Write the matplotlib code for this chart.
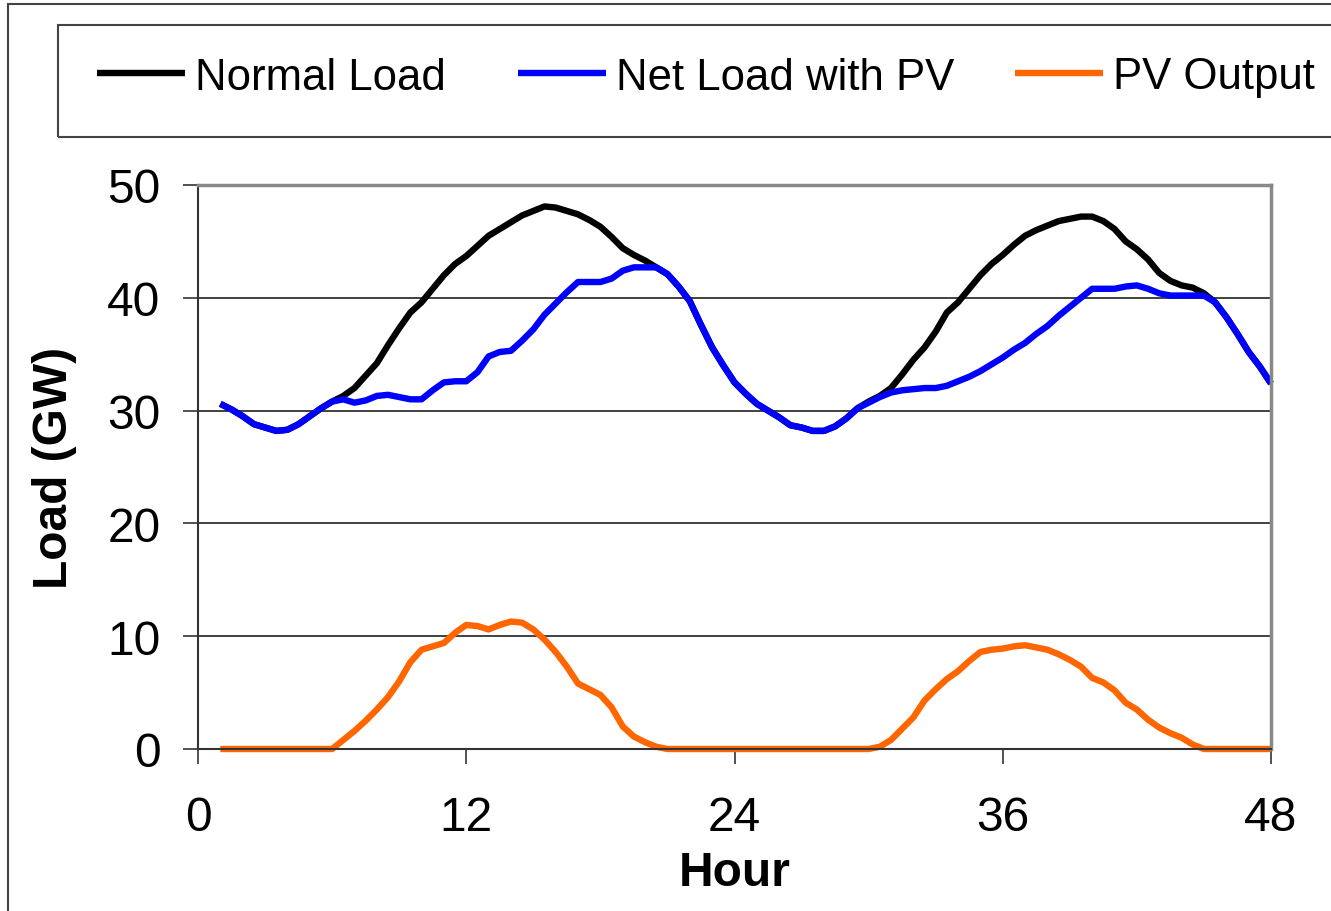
import numpy as np
import matplotlib.pyplot as plt
from matplotlib.patches import Rectangle

plt.rcParams['font.family'] = ['Liberation Sans', 'DejaVu Sans']

# half-hourly readings, hour 1 to 48
hours = np.arange(1, 48.5, 0.5)

normal_load = [30.6, 30.1, 29.5, 28.8, 28.5, 28.2, 28.3, 28.8, 29.5, 30.2, 30.8,
               31.3, 32.0, 33.1, 34.2, 35.8, 37.3, 38.7, 39.6, 40.8, 42.0,
               43.0, 43.7, 44.6, 45.5, 46.1, 46.7, 47.3, 47.7, 48.1, 48.0,
               47.7, 47.4, 46.9, 46.3, 45.4, 44.4, 43.8, 43.3, 42.7,
               42.1, 41.0, 39.7, 37.6, 35.6, 34.0, 32.5, 31.5, 30.6, 30.0,
               29.4, 28.7, 28.5, 28.2, 28.2, 28.6, 29.3, 30.2,
               30.8, 31.3, 32.0, 33.2, 34.5, 35.6, 37.0, 38.7, 39.6, 40.8,
               42.0, 43.0, 43.8, 44.7, 45.5, 46.0, 46.4, 46.8, 47.0, 47.2,
               47.2, 46.8, 46.1, 45.0, 44.3, 43.4, 42.2, 41.5, 41.1, 40.9, 40.4,
               39.6, 38.3, 36.8, 35.2, 33.9, 32.4]

net_load = [30.6, 30.1, 29.5, 28.8, 28.5, 28.2, 28.3, 28.8, 29.5, 30.2, 30.8,
            31.0, 30.7, 30.9, 31.3, 31.4, 31.2, 31.0, 31.0, 31.8, 32.5,
            32.6, 32.6, 33.4, 34.8, 35.2, 35.3, 36.2, 37.2, 38.5, 39.5,
            40.5, 41.4, 41.4, 41.4, 41.7, 42.4, 42.7, 42.7, 42.7,
            42.1, 41.0, 39.7, 37.6, 35.6, 34.0, 32.5, 31.5, 30.6, 30.0,
            29.4, 28.7, 28.5, 28.2, 28.2, 28.6, 29.3, 30.2,
            30.7, 31.2, 31.6, 31.8, 31.9, 32.0, 32.0, 32.2, 32.6, 33.0,
            33.5, 34.1, 34.7, 35.4, 36.0, 36.8, 37.5, 38.4, 39.2, 40.0,
            40.8, 40.8, 40.8, 41.0, 41.1, 40.8, 40.4, 40.2, 40.2, 40.2, 40.2,
            39.6, 38.3, 36.8, 35.2, 33.9, 32.4]

pv_output = [0, 0, 0, 0, 0, 0, 0, 0, 0, 0, 0,
             0.8, 1.6, 2.5, 3.5, 4.6, 6.0, 7.7, 8.8, 9.1, 9.4,
             10.3, 11.0, 10.9, 10.6, 11.0, 11.3, 11.2, 10.6, 9.7, 8.6,
             7.3, 5.8, 5.3, 4.8, 3.7, 2.0, 1.1, 0.6, 0.2,
             0, 0, 0, 0, 0, 0, 0, 0, 0, 0,
             0, 0, 0, 0, 0, 0, 0, 0, 0,
             0.2, 0.8, 1.8, 2.8, 4.3, 5.3, 6.2, 6.9, 7.8, 8.6,
             8.8, 8.9, 9.1, 9.2, 9.0, 8.8, 8.4, 7.9, 7.3, 6.3,
             5.9, 5.2, 4.1, 3.5, 2.6, 1.9, 1.4, 1.0, 0.4,
             0, 0, 0, 0, 0, 0, 0]

labels = ["Normal Load", "Net Load with PV", "PV Output"]
colors = ["#000000", "#0000FF", "#FF6600"]

W, H = 1331, 912
fig = plt.figure(figsize=(W / 100, H / 100), dpi=100)
ax = fig.add_axes([198 / W, 1 - 750 / H, (1271 - 198) / W, (750 - 186) / H])

lines = []
for y, lab, c in zip([normal_load, net_load, pv_output], labels, colors):
    ln, = ax.plot(hours, y, color=c, lw=4.6, label=lab, clip_on=False,
                  solid_capstyle='butt', solid_joinstyle='round')
    lines.append(ln)

ax.set_xlim(0, 48)
ax.set_ylim(0, 50)
ax.set_xticks([0, 12, 24, 36, 48])
ax.set_yticks([0, 10, 20, 30, 40, 50])
ax.yaxis.grid(True, color='#333333', lw=1.3)
ax.set_axisbelow(True)

ax.tick_params(axis='both', labelsize=34.5, length=11, width=1.2, color='#333333', direction='out')
ax.tick_params(axis='y', pad=16)
ax.tick_params(axis='x', pad=22)

for s in ['top', 'right']:
    ax.spines[s].set_color('#888888')
    ax.spines[s].set_linewidth(2.5)
for s in ['left', 'bottom']:
    ax.spines[s].set_color('#333333')
    ax.spines[s].set_linewidth(1.5)

ax.set_xlabel("Hour", fontsize=34.5, fontweight='bold', labelpad=7)
ax.set_ylabel("Load (GW)", fontsize=34.5, fontweight='bold', labelpad=22)

# outer chart border and legend frame (both run past the right edge)
fig.patches.append(Rectangle((8 / W, -0.1), 1.2, 1.1 - 5 / H, transform=fig.transFigure,
                             fill=False, ec='#444444', lw=1.5))
fig.patches.append(Rectangle((58 / W, 1 - 138 / H), 1.2, 112 / H, transform=fig.transFigure,
                             fill=False, ec='#444444', lw=1.5))

# one legend entry per slot, like the spreadsheet legend
for ln, x0 in zip(lines, [97, 518, 1015]):
    fig.legend(handles=[ln], loc='center left', bbox_to_anchor=(x0 / W, 1 - 78 / H),
               frameon=False, fontsize=31.5, handlelength=2.0, handletextpad=0.25,
               borderpad=0, borderaxespad=0)

fig.savefig("out.png", dpi=100)
